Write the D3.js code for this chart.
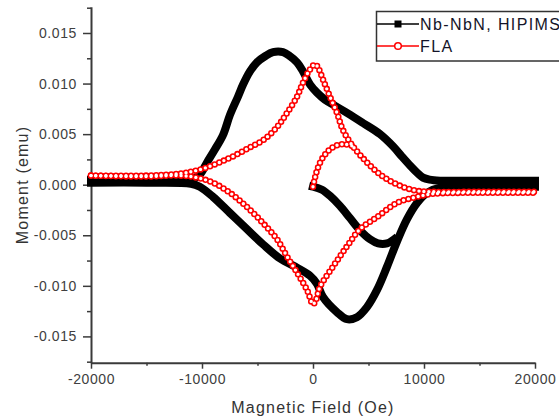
<!DOCTYPE html>
<html>
<head>
<meta charset="utf-8">
<script src="https://cdn.jsdelivr.net/npm/d3@7"></script>
<style>
  body { margin: 0; background: #fff; }
  svg text { font-family: "Liberation Sans", Arial, sans-serif; }
</style>
</head>
<body>
<svg id="chart" width="559" height="419"></svg>
<script>

// Nb-NbN, HIPIMS : upper branch, lower branch and virgin curve (field in Oe, moment in emu)
var nbUpField  = [-20000,-15000,-11000,-10200,-9550,-8830,-8110,-7480,-6760,-6300,-5680,-5050,-4320,-3600,-2700,-2070,-1440,-900,-270,360,1080,1530,3060,4500,6040,7210,8000,8740,9370,9910,10500,11440,15000,20000];
var nbUpMoment = [0.0005,0.0005,0.0005,0.0010,0.0022,0.0035,0.0049,0.0069,0.0087,0.0099,0.0112,0.0121,0.0127,0.0131,0.0131,0.0127,0.0121,0.0112,0.0099,0.0091,0.0084,0.0081,0.0071,0.0061,0.0050,0.0038,0.0028,0.0019,0.0012,0.0007,0.0005,0.0004,0.0004,0.0004];

var nbLoField  = [-20000,-15000,-11000,-10200,-9010,-7480,-5950,-4500,-2970,-1440,-270,360,900,2160,3060,3960,4860,5770,6670,7570,8470,9370,10270,11440,15000,20000];
var nbLoMoment = [0.0002,0.0002,0.0001,-0.0002,-0.0012,-0.0028,-0.0044,-0.0059,-0.0073,-0.0082,-0.0090,-0.0098,-0.0111,-0.0126,-0.0133,-0.0131,-0.0121,-0.0104,-0.0081,-0.0056,-0.0034,-0.0018,-0.0008,-0.0003,-0.0002,-0.0002];

var nbVirField  = [0,810,1530,2430,3330,4230,5140,5860,6670,7300];
var nbVirMoment = [-0.0002,-0.0005,-0.0011,-0.0021,-0.0033,-0.0045,-0.0054,-0.0058,-0.0058,-0.0054];

// FLA
var flaUpField  = [-20000,-15000,-12000,-10180,-8650,-7210,-5680,-4500,-3240,-2340,-1440,-900,-270,180,450,900,1530,2160,2700,3600,4870,6310,7840,9370,10810,15000,20000];
var flaUpMoment = [0.0009,0.0009,0.0011,0.0015,0.0021,0.0028,0.0037,0.0044,0.0057,0.0071,0.0087,0.0101,0.0114,0.0119,0.0116,0.0104,0.0087,0.0071,0.0054,0.0038,0.0022,0.0008,-0.0001,-0.0006,-0.0007,-0.0007,-0.0007];

var flaLoField  = [-20000,-15000,-12000,-10450,-9010,-7480,-5950,-4500,-3240,-2340,-1440,-540,0,270,630,1800,3060,4230,5770,7570,9370,10810,15000,20000];
var flaLoMoment = [0.0009,0.0008,0.0009,0.0007,0.0002,-0.0008,-0.0022,-0.0038,-0.0054,-0.0071,-0.0087,-0.0104,-0.0118,-0.0114,-0.0101,-0.0081,-0.0061,-0.0044,-0.0032,-0.0018,-0.0012,-0.0009,-0.0008,-0.0008];

var flaVirField  = [0,180,450,900,1530,2160,2880,3600];
var flaVirMoment = [-0.0002,0.0007,0.0017,0.0027,0.0035,0.0039,0.0040,0.0038];

// Axis ticks
var xMajorTicks = [-20000,-10000,0,10000,20000];
var xMinorTicks = [-15000,-5000,5000,15000];
var yMajorTicks = [-0.015,-0.010,-0.005,0,0.005,0.010,0.015];
var yMinorTicks = [-0.0175,-0.0125,-0.0075,-0.0025,0.0025,0.0075,0.0125,0.0175];

var legendNames = ["Nb-NbN, HIPIMS", "FLA"];

var svg = d3.select("#chart");

var x = d3.scaleLinear().domain([-20000, 20000]).range([91, 535]);
var y = d3.scaleLinear().domain([-0.0176, 0.0176]).range([362.7, 6.7]);

function pairs(fields, moments){
  return fields.map(function(f, i){ return [f, moments[i]]; });
}

var line = d3.line()
    .x(function(d) { return x(d[0]); })
    .y(function(d) { return y(d[1]); })
    .curve(d3.curveCatmullRom.alpha(0.5));

var fmt = function(f){ return function(v){ return f(v).replace("\u2212", "-"); }; };

// Minor ticks first, then major ticks with labels
var axisColor = "#3a3a3a";

svg.append("g")
    .attr("transform", "translate(0,362.7)")
    .call(d3.axisBottom(x).tickValues(xMinorTicks).tickSize(3).tickFormat(""))
    .call(function(g){ g.select(".domain").remove(); });

svg.append("g")
    .attr("transform", "translate(0,362.7)")
    .call(d3.axisBottom(x).tickValues(xMajorTicks).tickSize(6).tickSizeOuter(0).tickPadding(5)
      .tickFormat(fmt(d3.format("d"))));

svg.append("g")
    .attr("transform", "translate(91,0)")
    .call(d3.axisLeft(y).tickValues(yMinorTicks).tickSize(4).tickFormat(""))
    .call(function(g){ g.select(".domain").remove(); });

svg.append("g")
    .attr("transform", "translate(91,0)")
    .call(d3.axisLeft(y).tickValues(yMajorTicks).tickSize(8).tickSizeOuter(0).tickPadding(6)
      .tickFormat(fmt(d3.format(".3f"))));

svg.selectAll(".domain").attr("stroke", axisColor).attr("stroke-width", 2);
svg.selectAll(".tick line").attr("stroke", axisColor).attr("stroke-width", 1.5);
svg.selectAll(".tick text")
    .attr("fill", "#404040")
    .attr("font-size", 14)
    .attr("letter-spacing", 0.6)
    .style("font-family", "'Liberation Sans', Arial, sans-serif");

// Axis titles
svg.append("text")
    .attr("x", 313)
    .attr("y", 413)
    .attr("text-anchor", "middle")
    .attr("font-size", 16)
    .attr("letter-spacing", 1.2)
    .attr("fill", "#333")
    .text("Magnetic Field (Oe)");

svg.append("text")
    .attr("transform", "translate(28,185) rotate(-90)")
    .attr("text-anchor", "middle")
    .attr("font-size", 16)
    .attr("letter-spacing", 1.2)
    .attr("fill", "#333")
    .text("Moment (emu)");

// Nb-NbN: dense filled squares look like a thick black band
var nbCurves = [pairs(nbUpField, nbUpMoment), pairs(nbLoField, nbLoMoment), pairs(nbVirField, nbVirMoment)];
svg.append("g").selectAll("path")
    .data(nbCurves)
    .enter().append("path")
    .attr("d", line)
    .attr("fill", "none")
    .attr("stroke", "#000")
    .attr("stroke-width", 8)
    .attr("stroke-linejoin", "round")
    .attr("stroke-linecap", "square");

// FLA: chain of open red circles (red dots, white centres on top)
var flaCurves = [pairs(flaUpField, flaUpMoment), pairs(flaLoField, flaLoMoment), pairs(flaVirField, flaVirMoment)];
var flaG = svg.append("g");
flaG.selectAll(".ring")
    .data(flaCurves)
    .enter().append("path")
    .attr("class", "ring")
    .attr("d", line)
    .attr("fill", "none")
    .attr("stroke", "#ff0000")
    .attr("stroke-width", 6.5)
    .attr("stroke-linecap", "round")
    .attr("stroke-dasharray", "0 5");
flaG.selectAll(".hole")
    .data(flaCurves)
    .enter().append("path")
    .attr("class", "hole")
    .attr("d", line)
    .attr("fill", "none")
    .attr("stroke", "#fff")
    .attr("stroke-width", 3.4)
    .attr("stroke-linecap", "round")
    .attr("stroke-dasharray", "0 5");

// Legend (box runs off the right edge, as in the original)
var legend = svg.append("g");
legend.append("rect")
    .attr("x", 376.5).attr("y", 11.5)
    .attr("width", 220).attr("height", 49.5)
    .attr("fill", "#fff")
    .attr("stroke", "#333")
    .attr("stroke-width", 1.5);

var rows = legend.selectAll(".row")
    .data(legendNames)
    .enter().append("g")
    .attr("class", "row")
    .attr("transform", function(d, i) { return "translate(0," + (24 + i * 22) + ")"; });

rows.append("line")
    .attr("x1", 377).attr("x2", 419)
    .attr("stroke", function(d, i) { return i === 0 ? "#000" : "#ff0000"; })
    .attr("stroke-width", 1.3);

rows.filter(function(d, i) { return i === 0; })
    .append("rect")
    .attr("x", 394.5).attr("y", -3.5)
    .attr("width", 7).attr("height", 7)
    .attr("fill", "#000");

rows.filter(function(d, i) { return i === 1; })
    .append("circle")
    .attr("cx", 398).attr("r", 3.3)
    .attr("fill", "#fff")
    .attr("stroke", "#ff0000")
    .attr("stroke-width", 1.5);

rows.append("text")
    .attr("x", 420)
    .attr("dy", "0.36em")
    .attr("font-size", 16)
    .attr("letter-spacing", 1.4)
    .attr("fill", "#141428")
    .text(function(d) { return d; });

</script>
</body>
</html>
